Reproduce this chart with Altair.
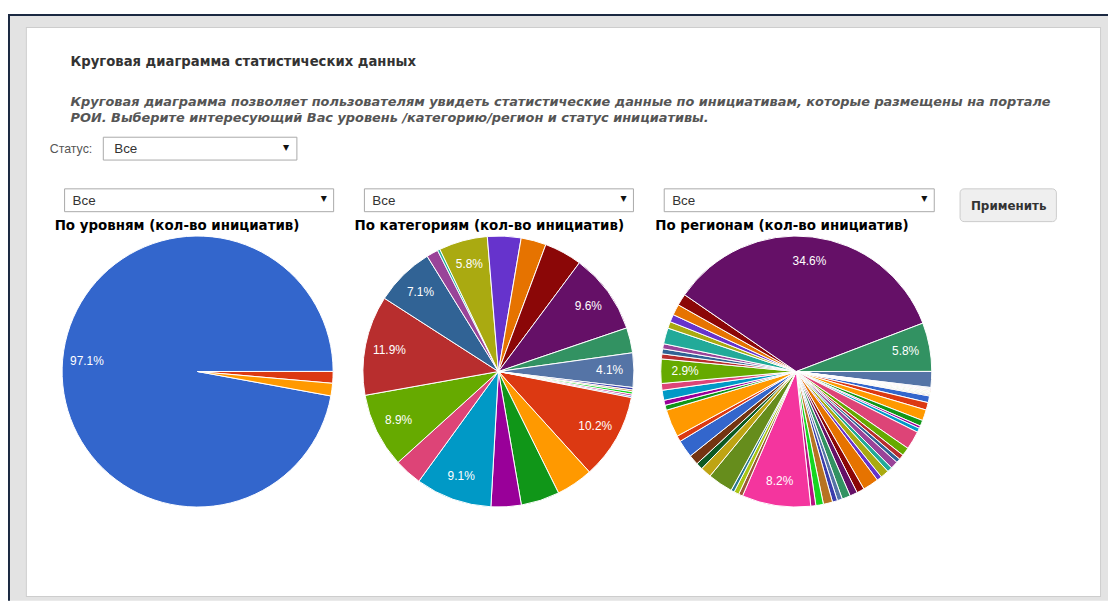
import math
import altair as alt
import pandas as pd

# ---------------- data (percentages, clockwise from the start angle) ----------------
PALETTE = ["#3366cc", "#dc3912", "#ff9900", "#109618", "#990099", "#0099c6", "#dd4477",
           "#66aa00", "#b82e2e", "#316395", "#994499", "#22aa99", "#aaaa11", "#6633cc",
           "#e67300", "#8b0707", "#651067", "#329262", "#5574a6", "#3b3eac", "#b77322",
           "#16d620", "#b91383", "#f4359e", "#9c5935", "#a9c413", "#2a778d", "#668d1c",
           "#bea413", "#0c5922", "#743411"]

levels_values = [97.1, 1.4, 1.5]
levels_labeled = [0]

categories_values = [0.2, 10.2, 4.4, 4.6, 3.6, 9.1, 3.3, 8.9, 11.9, 7.1, 1.4, 0.3,
                     5.8, 4.0, 3.0, 4.5, 9.6, 3.0, 4.1, 0.3, 0.2, 0.3, 0.2]
categories_labeled = [1, 5, 7, 8, 9, 12, 16, 18]

regions_values = [0.8, 0.9, 1.3, 0.7, 0.3, 0.5, 2.2, 1.0, 0.6, 0.5, 0.9, 0.6, 1.0, 0.6,
                  1.9, 0.9, 0.9, 1.0, 0.6, 0.6, 1.1, 0.9, 0.6, 8.2, 0.5, 0.6, 0.4, 3.0,
                  1.3, 0.8, 1.2, 2.1, 0.7, 3.3, 0.6, 0.6, 1.2, 0.8, 2.9, 0.6, 0.6, 0.6,
                  1.9, 0.8, 0.9, 1.3, 1.4, 34.6, 5.8, 1.9,
                  0.1, 0.1, 0.05, 0.1, 0.05, 0.1, 0.1, 0.05, 0.1, 0.05, 0.1, 0.1]
regions_labeled = [23, 38, 47, 48]

TITLE = "Круговая диаграмма статистических данных"
DESC_1 = ("Круговая диаграмма позволяет пользователям увидеть статистические данные "
          "по инициативам, которые размещены на портале")
DESC_2 = "РОИ. Выберите интересующий Вас уровень /категорию/регион и статус инициативы."
STATUS_LABEL = "Статус:"
SELECT_TEXT = "Все"
BUTTON_TEXT = "Применить"
PIE_TITLES = ["По уровням (кол-во инициатив)",
              "По категориям (кол-во инициатив)",
              "По регионам (кол-во инициатив)"]

# ---------------- layout / style ----------------
W, H = 1108, 595
START = math.radians(100.4)
R = 136.5
ARIAL = "Liberation Sans, Arial, sans-serif"
VERDANA = "DejaVu Sans, Verdana, sans-serif"
ONE = pd.DataFrame({"k": [0]})


def rect(x1, y1, x2, y2, fill, stroke=None, sw=1, cr=0):
    kw = dict(fill=fill, cornerRadius=cr)
    if stroke:
        kw.update(stroke=stroke, strokeWidth=sw)
    else:
        kw.update(strokeWidth=0)
    return alt.Chart(ONE).mark_rect(**kw).encode(
        x=alt.value(x1), x2=alt.value(x2), y=alt.value(y1), y2=alt.value(y2))


def txt(x, y, s, size, weight="normal", style="normal", color="#333333",
        font=ARIAL, align="left", baseline="alphabetic"):
    return alt.Chart(ONE).mark_text(
        align=align, baseline=baseline, fontSize=size, fontWeight=weight,
        fontStyle=style, color=color, font=font).encode(
        x=alt.value(x), y=alt.value(y), text=alt.value(s))


def pie(values, labeled, cx, cy):
    n = len(values)
    df = pd.DataFrame({
        "i": list(range(n)),
        "v": values,
        "label": [f"{v:.1f}%" if i in labeled else "" for i, v in enumerate(values)],
    })
    theta = alt.Theta("v:Q", stack=True,
                      scale=alt.Scale(range=[START, START + 2 * math.pi]))
    base = alt.Chart(df).encode(theta=theta, order=alt.Order("i:Q"),
                                x=alt.value(cx), y=alt.value(cy))
    arcs = base.mark_arc(outerRadius=R, stroke="white", strokeWidth=1).encode(
        color=alt.Color("i:O", legend=None,
                        scale=alt.Scale(domain=list(range(n)),
                                        range=[PALETTE[i % len(PALETTE)] for i in range(n)])))
    labels = base.mark_text(radius=112, color="white", font=ARIAL, fontSize=12).encode(
        text="label:N")
    return alt.layer(arcs, labels)


layers = [
    # page background, frame and panel
    rect(0, 6, W, H, "#e3e3e3"),
    rect(0, 4, W, 6, "#1b2942"),
    rect(0, 4, 2, H, "#1b2942"),
    rect(18, 17, 1101, 591, "#cdcdcd"),
    rect(19, 18, 1100, 590, "#ffffff"),
    # header texts
    txt(63, 56, TITLE, 13.3, weight="bold", color="#333333", font=VERDANA),
    txt(63, 97, DESC_1, 13, weight="bold", style="italic", color="#555555", font=VERDANA),
    txt(63, 113, DESC_2, 13, weight="bold", style="italic", color="#555555", font=VERDANA),
    # status select
    txt(42, 144, STATUS_LABEL, 12.5, color="#555555"),
    rect(96, 128, 291, 151, "#ffffff", stroke="#a9a9a9"),
    txt(107, 144, SELECT_TEXT, 13.5, color="#333333"),
    txt(280, 139, "▼", 8, color="#111111", font=VERDANA, align="center", baseline="middle"),
]

# three selects above the pies
for x1, x2 in [(57, 328), (359, 630), (661, 933)]:
    layers += [
        rect(x1, 180, x2, 203, "#ffffff", stroke="#a9a9a9"),
        txt(x1 + 8, 196, SELECT_TEXT, 13.5, color="#333333"),
        txt(x2 - 10, 190, "▼", 8, color="#111111", font=VERDANA, align="center",
            baseline="middle"),
    ]

# apply button
layers += [
    rect(959, 180, 1056, 213, "#efefef", stroke="#cccccc", cr=4),
    txt(1008, 197, BUTTON_TEXT, 12, weight="bold", color="#333333", font=VERDANA,
        align="center", baseline="middle"),
]

# pie titles
for x, t in zip([47, 349, 652], PIE_TITLES):
    layers.append(txt(x, 221, t, 13.5, weight="bold", color="#000000", font=VERDANA))

# pies
layers += [
    pie(levels_values, levels_labeled, 191, 364),
    pie(categories_values, categories_labeled, 494, 364),
    pie(regions_values, regions_labeled, 794, 364),
]

chart = alt.layer(*layers).resolve_scale(
    theta="independent", color="independent"
).properties(
    width=W, height=H, padding=0, background="white",
    autosize=alt.AutoSizeParams(type="none"),
).configure_view(strokeWidth=0)

chart.save("out.html", embed_options={"renderer": "svg", "actions": False})
